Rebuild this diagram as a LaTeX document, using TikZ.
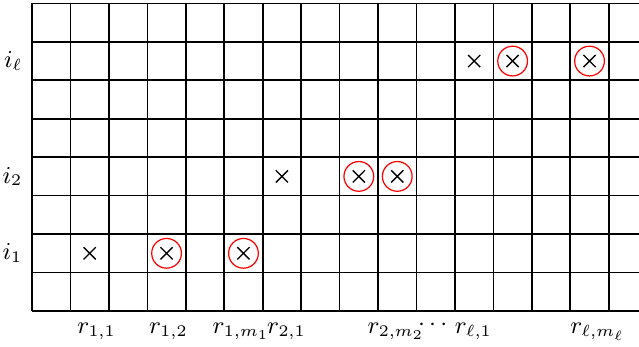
\documentclass[tikz,border=0pt]{standalone}
\usetikzlibrary{shapes.misc}
\begin{document}
\begin{tikzpicture}[x=0.5cm, y=0.5cm,
    font=\fontsize{8.6}{10}\selectfont,
    cell/.style={line width=0.6pt, step=0.5cm},
    hit/.style={cross out, draw, line width=0.5pt, minimum size=4pt, inner sep=0pt},
    pick/.style={circle, draw=red, line width=0.45pt, minimum size=11pt, inner sep=0pt},
    lab/.style={anchor=base, inner sep=0pt}
  ]
    \useasboundingbox (-0.832,-0.936) rectangle (15.787,8.088);
    \draw[cell] (0,0) grid (15.787,8);
    % row i_1
    \node[hit] (a1) at (1.5,1.5) {};
    \node[hit] (a2) at (3.5,1.5) {};
    \node[hit] (a3) at (5.5,1.5) {};
    \node[pick] (c2) at (a2) {};
    \node[pick] (c3) at (a3) {};
    % row i_2
    \node[hit] (b1) at (6.5,3.5) {};
    \node[hit] (b2) at (8.5,3.5) {};
    \node[hit] (b3) at (9.5,3.5) {};
    \node[pick] (d2) at (b2) {};
    \node[pick] (d3) at (b3) {};
    % row i_l
    \node[hit] (e1) at (11.5,6.5) {};
    \node[hit] (e2) at (12.5,6.5) {};
    \node[hit] (e3) at (14.5,6.5) {};
    \node[pick] (f2) at (e2) {};
    \node[pick] (f3) at (e3) {};
    % row labels
    \node[left] (i1) at (0,1.5) {$i_1$};
    \node[left] (i2) at (0,3.5) {$i_2$};
    \node[left] (il) at (0,6.5) {$i_\ell$};
    % column labels
    \node[lab] (r11) at (1.68,-0.585) {$r_{1,1}$};
    \node[lab] (r12) at (3.55,-0.585) {$r_{1,2}$};
    \node[lab] (r1m) at (5.44,-0.585) {$r_{1,m_1}$};
    \node[lab] (r21) at (6.62,-0.585) {$r_{2,1}$};
    \node[lab] (r2m) at (9.47,-0.585) {$r_{2,m_2}$};
    \node[lab] (dots) at (10.42,-0.51) {$\cdots$};
    \node[lab] (rl1) at (11.48,-0.585) {$r_{\ell,1}$};
    \node[lab] (rlm) at (14.71,-0.585) {$r_{\ell,m_\ell}$};
\end{tikzpicture}
\end{document}
